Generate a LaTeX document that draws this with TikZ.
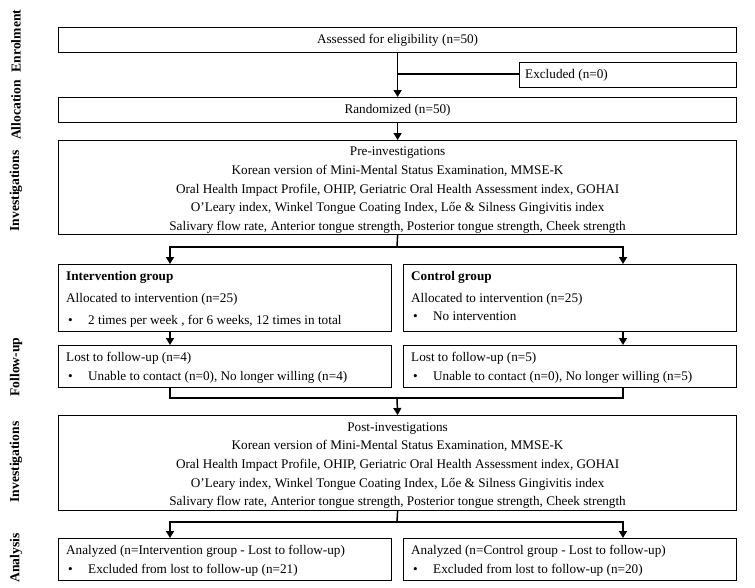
\documentclass[tikz,border=0pt]{standalone}
\usepackage{fontspec}
\setmainfont{Liberation Serif}
\usetikzlibrary{arrows.meta}
\begin{document}
\begin{tikzpicture}[x=1pt,y=-1pt,
  box/.style={draw, line width=1.2pt, inner sep=0pt, anchor=north west},
  txt/.style={font=\fontsize{13.2}{18.6}\selectfont},
  ln/.style={line width=1.5pt},
  arr/.style={line width=1.5pt, -{Triangle[width=8pt,length=7pt]}},
  side/.style={font=\fontsize{13.6}{16}\selectfont\bfseries, rotate=90, anchor=center},
  lt/.style={txt, anchor=base west, inner sep=0pt}
]
\useasboundingbox (0,0) rectangle (755,587);

% side labels
\node[side] (sEn) at (16,41) {Enrolment};
\node[side] (sAl) at (16,110) {Allocation};
\node[side] (sI1) at (16,191) {Investigations};
\node[side] (sFo) at (16,367) {Follow-up};
\node[side] (sI2) at (16,462) {Investigations};
\node[side] (sAn) at (16,558) {Analysis};

% boxes
\node[box, minimum width=678pt, minimum height=25pt] (b1) at (58,27) {};
\node[txt] (b1t) at (b1.center) {Assessed for eligibility (n=50)};
\node[box, minimum width=217pt, minimum height=25pt] (ex) at (519,62) {};
\node[lt, anchor=west] (ext) at ([xshift=6pt]ex.west) {Excluded (n=0)};
\node[box, minimum width=678pt, minimum height=25pt] (rand) at (58,97) {};
\node[txt] (randt) at (rand.center) {Randomized (n=50)};

\node[box, minimum width=678pt, minimum height=94pt] (pre) at (58,140) {};
\node[txt, align=center] (pret) at ([yshift=-2.5pt]pre.center) {Pre-investigations\\
Korean version of Mini-Mental Status Examination, MMSE-K\\
Oral Health Impact Profile, OHIP, Geriatric Oral Health Assessment index, GOHAI\\
O’Leary index, Winkel Tongue Coating Index, Lőe \& Silness Gingivitis index\\
Salivary flow rate, Anterior tongue strength, Posterior tongue strength, Cheek strength};

\node[box, minimum width=333pt, minimum height=67pt] (int) at (58,264) {};
\node[box, minimum width=333pt, minimum height=67pt] (ctl) at (403,264) {};
\node[lt, font=\fontsize{13.2}{15}\selectfont\bfseries] (intt1) at (66,280) {Intervention group};
\node[lt] (intt2) at (66,302) {Allocated to intervention (n=25)};
\node[lt] (intb) at (68,324) {•};
\node[lt] (intt3) at (88,324) {2 times per week , for 6 weeks, 12 times in total};
\node[lt, font=\fontsize{13.2}{15}\selectfont\bfseries] (ctlt1) at (411,280) {Control group};
\node[lt] (ctlt2) at (411,302) {Allocated to intervention (n=25)};
\node[lt] (ctlb) at (413,320) {•};
\node[lt] (ctlt3) at (433,320) {No intervention};

\node[box, minimum width=333pt, minimum height=42pt] (lostI) at (58,345) {};
\node[box, minimum width=333pt, minimum height=42pt] (lostC) at (403,345) {};
\node[lt] (lIt1) at (66,361) {Lost to follow-up (n=4)};
\node[lt] (lIb) at (68,380) {•};
\node[lt] (lIt2) at (88,380) {Unable to contact (n=0), No longer willing (n=4)};
\node[lt] (lCt1) at (411,361) {Lost to follow-up (n=5)};
\node[lt] (lCb) at (413,380) {•};
\node[lt] (lCt2) at (433,380) {Unable to contact (n=0), No longer willing (n=5)};

\node[box, minimum width=678pt, minimum height=95pt] (post) at (58,415) {};
\node[txt, align=center] (postt) at ([yshift=-2.5pt]post.center) {Post-investigations\\
Korean version of Mini-Mental Status Examination, MMSE-K\\
Oral Health Impact Profile, OHIP, Geriatric Oral Health Assessment index, GOHAI\\
O’Leary index, Winkel Tongue Coating Index, Lőe \& Silness Gingivitis index\\
Salivary flow rate, Anterior tongue strength, Posterior tongue strength, Cheek strength};

\node[box, minimum width=333pt, minimum height=42pt] (anI) at (58,538) {};
\node[box, minimum width=333pt, minimum height=42pt] (anC) at (403,538) {};
\node[lt] (aIt1) at (66,554) {Analyzed (n=Intervention group - Lost to follow-up)};
\node[lt] (aIb) at (68,573) {•};
\node[lt] (aIt2) at (88,573) {Excluded from lost to follow-up (n=21)};
\node[lt] (aCt1) at (411,554) {Analyzed (n=Control group - Lost to follow-up)};
\node[lt] (aCb) at (413,573) {•};
\node[lt] (aCt2) at (433,573) {Excluded from lost to follow-up (n=20)};

% coordinates
\coordinate (j1) at (397,74);
\coordinate (h1) at (397,247);
\coordinate (h2) at (397,398);
\coordinate (h3) at (397,522);
\coordinate (xL) at (170,0);
\coordinate (xR) at (623,0);

% connectors
\draw[arr] (b1.south) -- (rand.north);
\draw[ln] (j1) -- (j1 -| ex.west);
\draw[arr] (rand.south) -- (pre.north);
\draw[ln] (pre.south) -- (h1);
\draw[arr] (h1) -| (xL |- int.north);
\draw[arr] (h1) -| (xR |- ctl.north);
\draw[arr] (xL |- int.south) -- (xL |- lostI.north);
\draw[arr] (xR |- ctl.south) -- (xR |- lostC.north);
\draw[ln] (xL |- lostI.south) |- (h2);
\draw[ln] (xR |- lostC.south) |- (h2);
\draw[arr] (h2) -- (post.north);
\draw[ln] (post.south) -- (h3);
\draw[arr] (h3) -| (xL |- anI.north);
\draw[arr] (h3) -| (xR |- anC.north);
\end{tikzpicture}
\end{document}
